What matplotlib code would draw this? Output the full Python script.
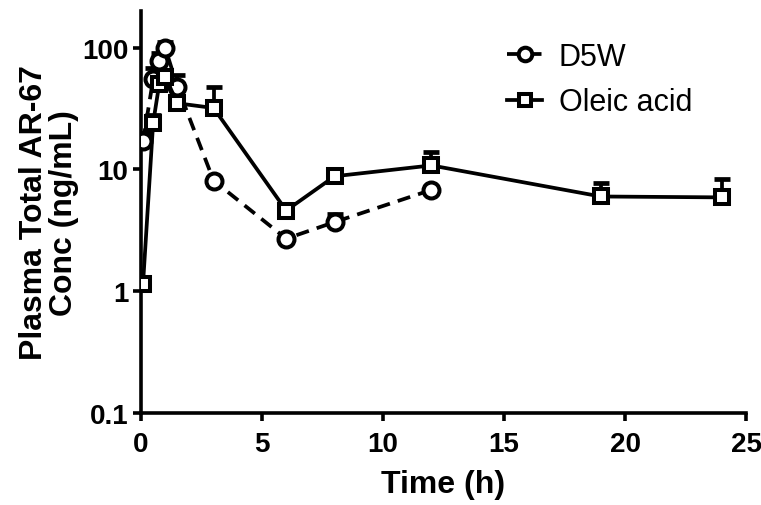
import numpy as np
import matplotlib
matplotlib.use("Agg")
import matplotlib.pyplot as plt

plt.rcParams['font.family'] = ['Liberation Sans', 'DejaVu Sans']

# Mean plasma concentration (ng/mL) with upper SD
d5w_t = [0.083, 0.5, 0.75, 1.0, 1.5, 3, 6, 8, 12]
d5w_mean = [17, 55, 78, 100, 48, 8.1, 2.7, 3.7, 6.8]
d5w_upper = [20, 68, 90, 112, 60, 8.5, 2.85, 4.3, 7.1]

oleic_t = [0.083, 0.5, 0.75, 1.0, 1.5, 3, 6, 8, 12, 19, 24]
oleic_mean = [1.15, 24, 50, 58, 35, 32, 4.6, 8.8, 10.8, 6.0, 5.9]
oleic_upper = [1.25, 28, 78, 63, 50, 48, 4.9, 9.4, 14.0, 7.8, 8.3]

y_ticks = [0.1, 1, 10, 100]
y_ticklabels = ["0.1", "1", "10", "100"]
x_ticks = [0, 5, 10, 15, 20, 25]

fig = plt.figure(figsize=(7.61, 5.06), dpi=100)
ax = fig.add_axes([0.1853, 0.182, 0.795, 0.794])

lw = 2.7
series = [
    (d5w_t, d5w_mean, d5w_upper, 'o', (0, (3.5, 2.2)), "D5W", 11.5),
    (oleic_t, oleic_mean, oleic_upper, 's', '-', "Oleic acid", 10.5),
]
for t, m, up, mk, ls, lab, ms in series:
    t = np.asarray(t); m = np.asarray(m); up = np.asarray(up)
    ax.errorbar(t, m, yerr=[np.zeros_like(m), up - m], fmt='none',
                ecolor='black', elinewidth=lw, capsize=5.5, capthick=3.4,
                zorder=2)
    ax.plot(t, m, linestyle=ls, color='black', lw=lw, marker=mk,
            markersize=ms, markerfacecolor='white', markeredgecolor='black',
            markeredgewidth=2.9, label=lab, zorder=3)

ax.set_yscale('log')
ax.set_xlim(0, 25)
ax.set_ylim(0.1, 200)
ax.set_yticks(y_ticks)
ax.set_yticklabels(y_ticklabels)
ax.yaxis.set_minor_locator(matplotlib.ticker.NullLocator())
ax.set_xticks(x_ticks)

for s in ['top', 'right']:
    ax.spines[s].set_visible(False)
for s in ['left', 'bottom']:
    ax.spines[s].set_linewidth(2.6)
ax.tick_params(axis='both', which='major', direction='out', length=6,
               width=2.6, labelsize=20, pad=3)
ax.tick_params(axis='x', pad=7)
for lbl in ax.get_xticklabels() + ax.get_yticklabels():
    lbl.set_fontweight('bold')

ax.set_xlabel("Time (h)", fontsize=23, fontweight='bold', labelpad=9)
ax.set_ylabel("Plasma Total AR-67\nConc (ng/mL)", fontsize=23,
              fontweight='bold', labelpad=2, linespacing=1.0)

leg = ax.legend(loc='upper left', bbox_to_anchor=(507 / 761, 1 - 43 / 506),
                bbox_transform=fig.transFigure, frameon=False, borderpad=0,
                borderaxespad=0, fontsize=22, handlelength=1.15,
                handletextpad=0.55, labelspacing=0.5, markerscale=0.85)

fig.savefig("out.png", dpi=100)
